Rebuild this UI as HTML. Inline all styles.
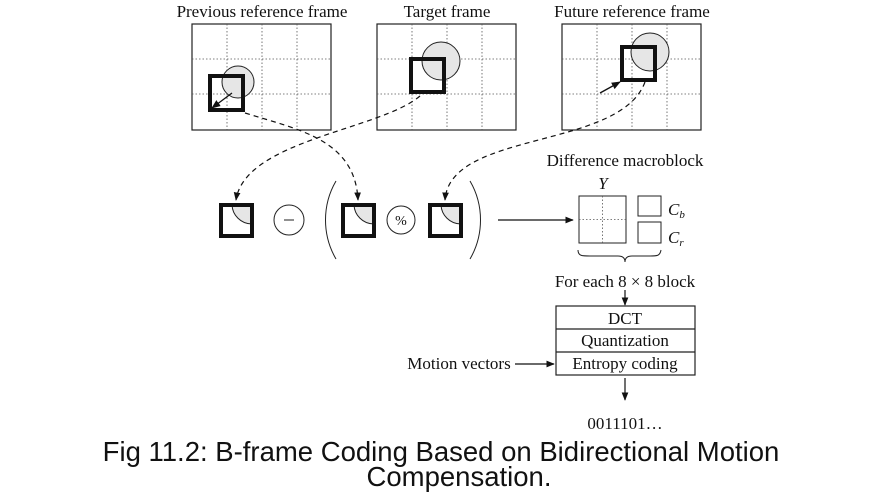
<!DOCTYPE html>
<html><head><meta charset="utf-8"><style>
html,body{margin:0;padding:0;background:#fff;width:879px;height:501px;overflow:hidden}
svg{display:block}
text{font-family:"Liberation Serif",serif;fill:#111}
</style></head><body>
<svg width="879" height="501" viewBox="0 0 879 501" xmlns="http://www.w3.org/2000/svg">
<defs>
<marker id="ah" viewBox="0 0 10 10" refX="9" refY="5" markerWidth="7" markerHeight="7" orient="auto-start-reverse"><path d="M0,1 L10,5 L0,9 z" fill="#111"/></marker>
<clipPath id="c1"><rect x="221" y="205" width="31" height="30"/></clipPath>
<clipPath id="c2"><rect x="343" y="205" width="31" height="30"/></clipPath>
<clipPath id="c3"><rect x="430" y="205" width="31" height="30"/></clipPath>
</defs>
<g font-size="17" text-anchor="middle">
<text x="262" y="17">Previous reference frame</text>
<text x="447" y="17">Target frame</text>
<text x="632" y="17">Future reference frame</text>
</g>
<g stroke="#222" fill="none">
<rect x="192" y="24" width="139" height="106" stroke-width="1.2"/>
<rect x="377" y="24" width="139" height="106" stroke-width="1.2"/>
<rect x="562" y="24" width="139" height="106" stroke-width="1.2"/>
<g stroke-dasharray="1.5,2" stroke-width="0.8" stroke="#555">
<path d="M227,24V130M262,24V130M297,24V130M192,59H331M192,94H331"/>
<path d="M412,24V130M447,24V130M482,24V130M377,59H516M377,94H516"/>
<path d="M597,24V130M632,24V130M667,24V130M562,59H701M562,94H701"/>
</g>
</g>
<circle cx="238" cy="82" r="16" fill="#e6e6e6" stroke="#222"/>
<rect x="210" y="76" width="33" height="34" fill="none" stroke="#111" stroke-width="4"/>
<line x1="232" y1="93" x2="212" y2="108" stroke="#111" stroke-width="1.3" marker-end="url(#ah)"/>
<circle cx="441" cy="61" r="19" fill="#e6e6e6" stroke="#222"/>
<rect x="411" y="59" width="33" height="33" fill="none" stroke="#111" stroke-width="4"/>
<circle cx="650" cy="52" r="19" fill="#e6e6e6" stroke="#222"/>
<rect x="622" y="47" width="33" height="33" fill="none" stroke="#111" stroke-width="4"/>
<line x1="600" y1="93" x2="620" y2="82" stroke="#111" stroke-width="1.3" marker-end="url(#ah)"/>
<g fill="none" stroke="#111" stroke-width="1.2" stroke-dasharray="5,4">
<path d="M245,113 C300,130 355,140 358,200" marker-end="url(#ah)"/>
<path d="M420,96 C380,130 245,140 236,200" marker-end="url(#ah)"/>
<path d="M645,82 C620,150 450,130 445,200" marker-end="url(#ah)"/>
</g>
<g stroke="#222" stroke-width="1">
<circle cx="252" cy="204" r="20" fill="#e6e6e6" clip-path="url(#c1)"/>
<circle cx="374" cy="204" r="20" fill="#e6e6e6" clip-path="url(#c2)"/>
<circle cx="461" cy="204" r="20" fill="#e6e6e6" clip-path="url(#c3)"/>
</g>
<g fill="none" stroke="#111" stroke-width="4">
<rect x="221" y="205" width="31" height="31"/>
<rect x="343" y="205" width="31" height="31"/>
<rect x="430" y="205" width="31" height="31"/>
</g>
<circle cx="289" cy="220" r="15" fill="none" stroke="#222"/>
<line x1="284" y1="220" x2="294" y2="220" stroke="#222"/>
<circle cx="401" cy="220" r="14" fill="none" stroke="#222"/>
<text x="401" y="225" font-size="14" text-anchor="middle">%</text>
<path d="M336,181 C322,205 322,235 336,259" fill="none" stroke="#222"/>
<path d="M470,181 C484,205 484,235 470,259" fill="none" stroke="#222"/>
<line x1="498" y1="220" x2="573" y2="220" stroke="#111" stroke-width="1.2" marker-end="url(#ah)"/>
<text x="625" y="166" font-size="17" text-anchor="middle">Difference macroblock</text>
<text x="603" y="189" font-size="17" font-style="italic" text-anchor="middle">Y</text>
<rect x="579" y="196" width="47" height="47" fill="none" stroke="#222"/>
<path d="M602.5,196V243M579,219.5H626" stroke="#555" stroke-width="0.8" stroke-dasharray="1.5,2"/>
<rect x="638" y="196" width="23" height="20" fill="none" stroke="#222"/>
<rect x="638" y="222" width="23" height="21" fill="none" stroke="#222"/>
<text x="668" y="215" font-size="17" font-style="italic">C<tspan font-size="11" dy="3">b</tspan></text>
<text x="668" y="243" font-size="17" font-style="italic">C<tspan font-size="11" dy="3">r</tspan></text>
<path d="M578,250 C578,256 582,256 590,256 L618,256 C623,256 625,258 625,262 C625,258 627,256 632,256 L650,256 C657,256 660,256 661,250" fill="none" stroke="#222"/>
<text x="625" y="287" font-size="17" text-anchor="middle">For each 8 × 8 block</text>
<line x1="625" y1="290" x2="625" y2="305" stroke="#111" stroke-width="1.2" marker-end="url(#ah)"/>
<g fill="none" stroke="#222" stroke-width="1.2">
<rect x="556" y="306" width="139" height="69"/>
<path d="M556,329H695M556,352H695"/>
</g>
<g font-size="17" text-anchor="middle">
<text x="625" y="324">DCT</text>
<text x="625" y="346">Quantization</text>
<text x="625" y="369">Entropy coding</text>
</g>
<text x="459" y="369" font-size="17" text-anchor="middle">Motion vectors</text>
<line x1="515" y1="364" x2="554" y2="364" stroke="#111" stroke-width="1.2" marker-end="url(#ah)"/>
<line x1="625" y1="378" x2="625" y2="400" stroke="#111" stroke-width="1.2" marker-end="url(#ah)"/>
<text x="625" y="429" font-size="17" text-anchor="middle">0011101…</text>
<g font-size="27.5" text-anchor="middle">
<text x="441" y="461" style="font-family:'Liberation Sans',sans-serif">Fig 11.2: B-frame Coding Based on Bidirectional Motion</text>
<text x="459" y="486" style="font-family:'Liberation Sans',sans-serif">Compensation.</text>
</g>
</svg>
</body></html>
